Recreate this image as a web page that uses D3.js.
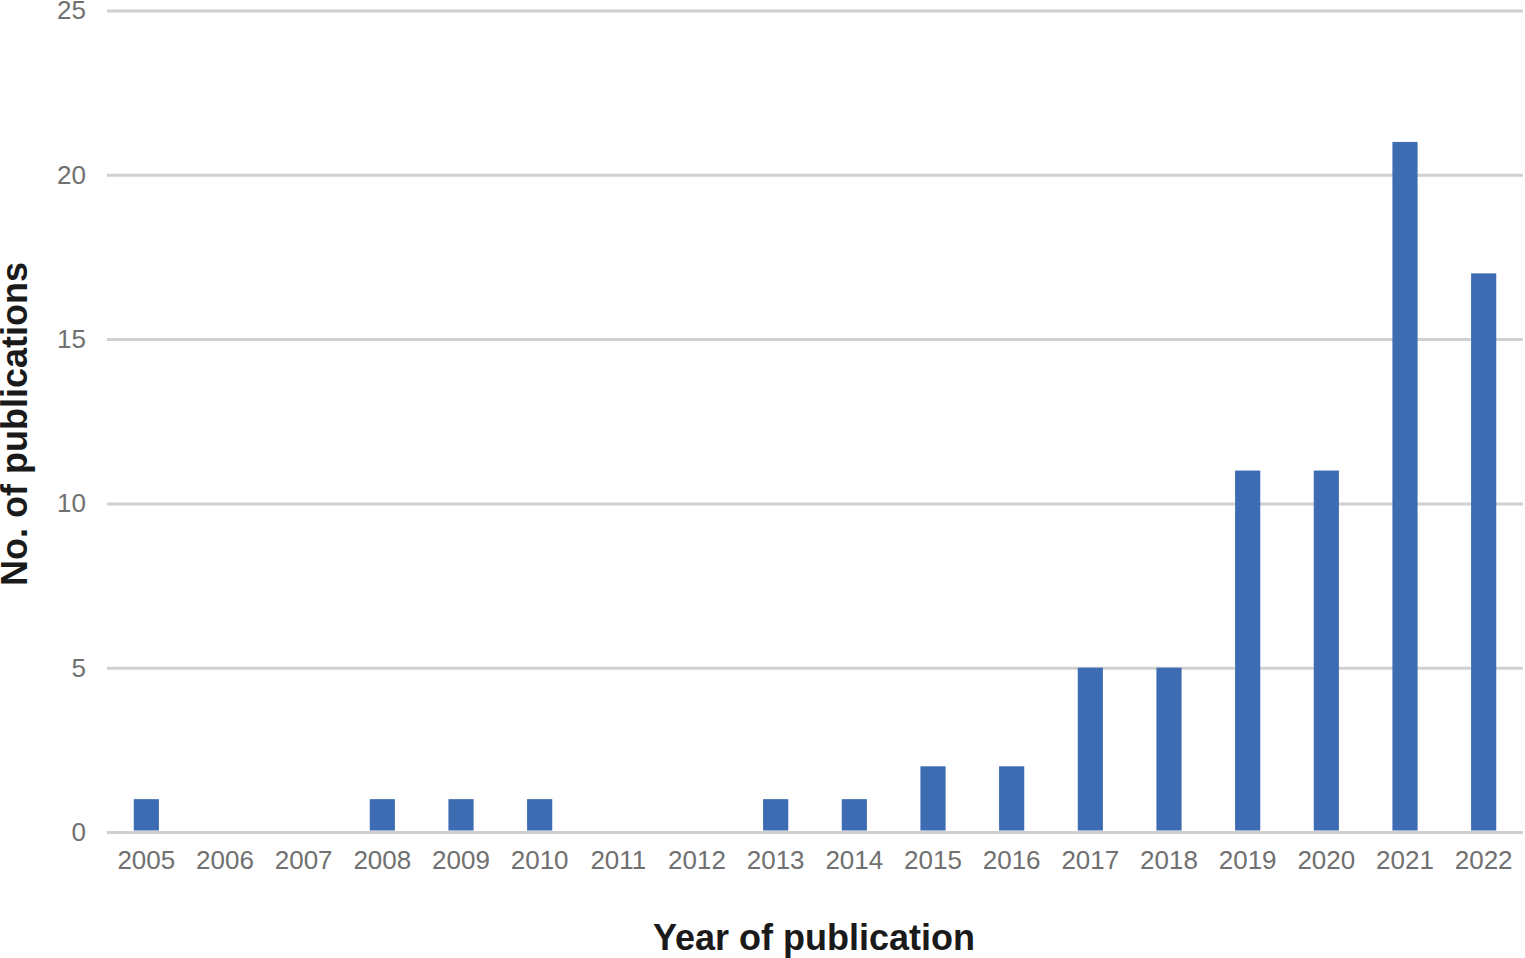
<html lang="en">
<head>
  <meta charset="UTF-8"/>
  <title>Publications per year</title>
  <script src="https://d3js.org/d3.v7.min.js"></script>
</head>
<body>
  <svg></svg>
</body>
<style>
body {
  margin: 0;
  background: #fff;
  font-family: 'Liberation Sans', Arial, sans-serif;
}

svg {
  width: 1525px;
  height: 958px;
  display: block;
}

.bar {
  fill: #3d6cb3;
}

.grid line {
  stroke: #d0d0d0;
  stroke-width: 3;
}

.grid path {
  stroke-width: 0;
}

.tick text {
  font-size: 26px;
  fill: #707070;
}

text.label {
  font-size: 36px;
  font-weight: 700;
  fill: #1a1a1a;
}
</style>

<script>
    const years = ['2005', '2006', '2007', '2008', '2009', '2010', '2011', '2012', '2013',
                   '2014', '2015', '2016', '2017', '2018', '2019', '2020', '2021', '2022'];
    const publications = [1, 0, 0, 1, 1, 1, 0, 0, 1, 1, 2, 2, 5, 5, 11, 11, 21, 17];
    const yTicks = [0, 5, 10, 15, 20, 25];

    const plotLeft = 107, plotRight = 1523, plotTop = 10.5, plotBottom = 832;

    const svg = d3.select('svg');

    const xScale = d3.scaleBand()
      .domain(years)
      .range([plotLeft, plotRight])
      .paddingInner(0.68)
      .paddingOuter(0.34);

    const yScale = d3.scaleLinear()
      .domain([0, 25])
      .range([plotBottom, plotTop]);

    // gridlines + y labels
    const grid = svg.append('g')
      .attr('class', 'grid')
      .attr('transform', `translate(${plotLeft}, 0)`)
      .call(d3.axisLeft(yScale).tickValues(yTicks).tickSize(-(plotRight - plotLeft)));
    grid.selectAll('.tick text').attr('x', -21);

    svg.selectAll('.bar')
      .data(years)
      .enter().append('rect')
      .attr('class', 'bar')
      .attr('x', d => xScale(d))
      .attr('width', xScale.bandwidth())
      .attr('y', (d, i) => yScale(publications[i]))
      .attr('height', (d, i) => Math.max(0, yScale(0) - 1.5 - yScale(publications[i])));

    // x labels
    const xAxis = svg.append('g')
      .attr('class', 'grid')
      .attr('transform', `translate(0, ${plotBottom})`)
      .call(d3.axisBottom(xScale).tickSize(0).tickPadding(19));
    xAxis.select('.domain').remove();

    svg.append('text')
      .attr('class', 'label')
      .attr('x', 814)
      .attr('y', 950)
      .attr('text-anchor', 'middle')
      .text('Year of publication');

    svg.append('text')
      .attr('class', 'label')
      .attr('transform', 'translate(27, 424) rotate(-90)')
      .attr('text-anchor', 'middle')
      .text('No. of publications');
</script>
</html>
